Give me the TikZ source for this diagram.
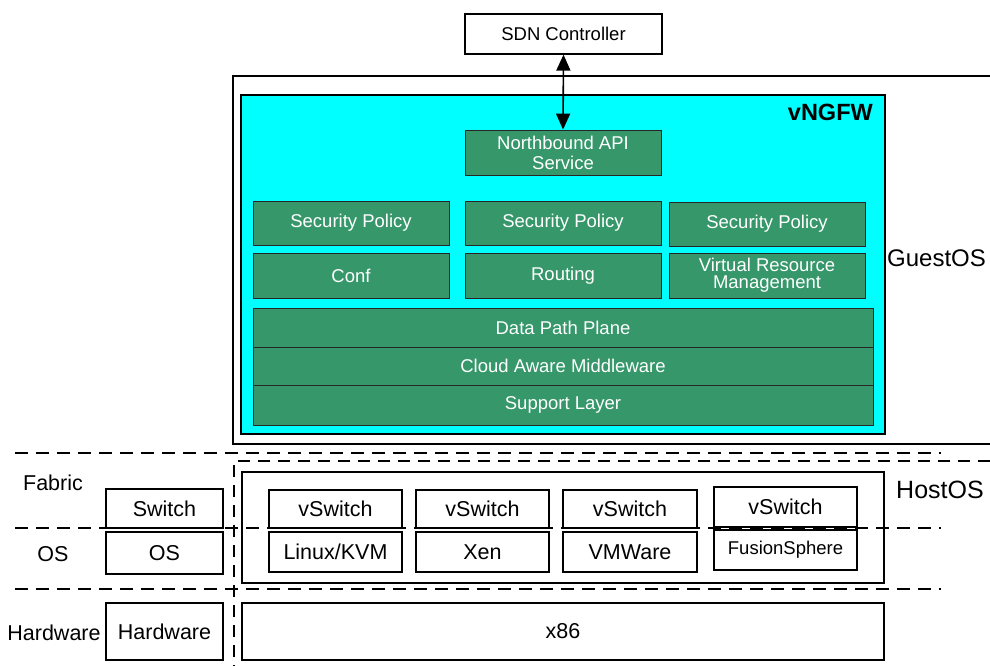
\documentclass[tikz,border=0pt]{standalone}
\usepackage{fontspec}
\setmainfont{Liberation Sans}
\usetikzlibrary{arrows.meta}
\definecolor{ngfw}{HTML}{00FFFF}
\definecolor{modgreen}{HTML}{35976A}
\tikzset{
  plainbox/.style={draw=black, line width=1.3pt, fill=white, inner sep=0pt, font=\fontsize{18.5}{20}\selectfont},
  greenbox/.style={draw=black!85, line width=0.9pt, fill=modgreen, text=white, inner sep=0pt, align=center, font=\fontsize{18.5}{20}\selectfont},
  hostbox/.style={draw=black, line width=1.3pt, fill=white, inner sep=0pt, font=\fontsize{21.5}{23}\selectfont},
  layerlabel/.style={inner sep=0pt, font=\fontsize{21.5}{23}\selectfont},
  sepline/.style={line width=1.6pt, dash pattern=on 13pt off 8pt},
  bigtip/.tip={Triangle[length=16pt,width=14pt]},
}
\begin{document}
\begin{tikzpicture}[x=1pt,y=-1pt]
\useasboundingbox (0,0) rectangle (990,666);
\begin{scope}
\clip (0,0) rectangle (990,666);
% GuestOS outer box
\draw[line width=1.3pt] (233,76) rectangle (1000,444);
\node[layerlabel, font=\fontsize{24}{26}\selectfont, anchor=west] (guestos) at (887,258) {GuestOS};
% vNGFW cyan box
\draw[line width=1.3pt, fill=ngfw] (241,95) rectangle (885,434);
\node[inner sep=0pt, anchor=east, font=\bfseries\fontsize{23.5}{25}\selectfont] (vngfw) at (873,112) {vNGFW};
% SDN controller
\node[plainbox, minimum width=197pt, minimum height=40pt] (sdn) at (563.5,34) {SDN Controller};
% green modules
\node[greenbox, minimum width=196pt, minimum height=45pt] (nb) at (563,152.5) {Northbound API\\Service};
\node[greenbox, minimum width=196pt, minimum height=44pt] (sp1) at (351,223) {Security Policy};
\node[greenbox, minimum width=196pt, minimum height=44pt] (sp2) at (563,223) {Security Policy};
\node[greenbox, minimum width=196pt, minimum height=44pt] (sp3) at (767,224) {Security Policy};
\node[greenbox, minimum width=196pt, minimum height=45pt] (conf) at (351,275.5) {Conf};
\node[greenbox, minimum width=196pt, minimum height=45pt] (routing) at (563,275.5) {Routing};
\node[greenbox, minimum width=196pt, minimum height=45pt] (vrm) at (767,275.5) {Virtual Resource\\[-3pt]Management};
\node[greenbox, minimum width=620pt, minimum height=39pt] (dpp) at (563,327.5) {Data Path Plane};
\node[greenbox, minimum width=620pt, minimum height=38pt] (cam) at (563,366) {Cloud Aware Middleware};
\node[greenbox, minimum width=620pt, minimum height=40pt] (sup) at (563,405) {Support Layer};
% arrow
\draw[line width=1.6pt, bigtip-bigtip] (sdn.south) -- (nb.north);
% dashed separators
\draw[sepline] (15,453) -- (941,453);
\draw[sepline, dash pattern=on 12pt off 8pt] (990,461) -- (234,461) -- (234,666);
\end{scope}
% HostOS box
\draw[line width=1.3pt] (242,472) rectangle (884,583);
\node[layerlabel, font=\fontsize{25}{27}\selectfont, anchor=west] (hostos) at (896,490) {HostOS};
% hypervisor columns
\node[hostbox, minimum width=133pt, minimum height=38pt] (vs1) at (335.5,509) {vSwitch};
\node[hostbox, minimum width=133pt, minimum height=40pt] (kvm) at (335.5,552) {Linux/KVM};
\node[hostbox, minimum width=133pt, minimum height=38pt] (vs2) at (482.5,509) {vSwitch};
\node[hostbox, minimum width=133pt, minimum height=40pt] (xen) at (482.5,552) {Xen};
\node[hostbox, minimum width=134pt, minimum height=38pt] (vs3) at (630,509) {vSwitch};
\node[hostbox, minimum width=134pt, minimum height=40pt] (vmw) at (630,552) {VMWare};
\node[hostbox, minimum width=143pt, minimum height=40pt] (vs4) at (785.5,507) {vSwitch};
\node[hostbox, minimum width=143pt, minimum height=40pt, font=\fontsize{18.5}{20}\selectfont] (fus) at (785.5,550) {FusionSphere};
% left column
\node[layerlabel, anchor=center] (lfab) at (53,483) {Fabric};
\node[layerlabel, anchor=center] (los) at (53,554) {OS};
\node[layerlabel, anchor=center] (lhw) at (54,633) {Hardware};
\node[hostbox, minimum width=117pt, minimum height=39pt] (switch) at (164.5,508.5) {Switch};
\node[hostbox, minimum width=117pt, minimum height=42pt] (osbox) at (164.5,553) {OS};
\node[hostbox, minimum width=117pt, minimum height=57pt] (hwbox) at (164.5,631.5) {Hardware};
\node[hostbox, minimum width=642pt, minimum height=57pt] (x86) at (563,631.5) {x86};
% dashed separators over the boxes
\draw[sepline] (15,528) -- (941,528);
\draw[sepline] (15,589) -- (941,589);
\end{tikzpicture}
\end{document}
